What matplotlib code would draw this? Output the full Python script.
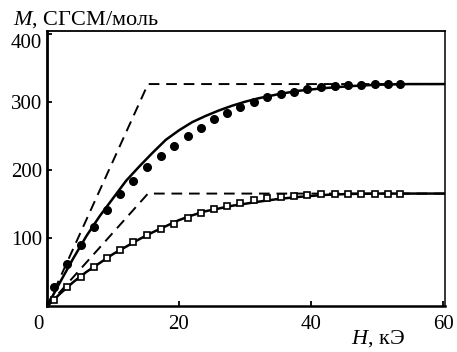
import numpy as np
import matplotlib
matplotlib.use("Agg")
import matplotlib.pyplot as plt
import matplotlib.transforms as mtransforms

plt.rcParams['font.family'] = ['Liberation Serif', 'DejaVu Serif']
plt.rcParams['mathtext.fontset'] = 'custom'
plt.rcParams['mathtext.rm'] = 'Liberation Serif'
plt.rcParams['mathtext.it'] = 'Liberation Serif:italic'

#
# Data
#

# measured points, H in kOe
h_points = [1.1, 3.1, 5.1, 7.1, 9.1, 11.1, 13.1, 15.2, 17.2, 19.2, 21.3, 23.3, 25.3,
            27.3, 29.3, 31.3, 33.4, 35.4, 37.4, 39.4, 41.5, 43.6, 45.6, 47.6, 49.7,
            51.7, 53.5]
m_circles = [28, 62, 90, 117, 142, 165, 185, 205, 221, 236, 251, 263, 275, 285, 294,
             301, 308, 312, 316, 320, 322, 324, 325, 326, 327, 327, 327]
m_squares = [10, 28, 43, 58, 71, 83, 95, 105, 114, 122, 130, 137, 143, 148, 152, 156,
             159, 161, 163, 164, 165, 165, 165, 165, 165, 165, 165]

# solid (calculated) curves
h_curve = [0, 2, 4, 6, 8, 10, 12, 14, 16, 18, 20, 22, 24, 26, 28, 30, 32, 35, 38,
           42, 46, 50, 55, 60.3]
m_curve_upper = [0, 36, 71, 104, 133, 159, 185, 206, 226, 245, 259, 271, 280, 288,
                 295, 301, 306, 312, 317, 321, 324, 326, 327, 327]
m_curve_lower = [0, 19, 36, 51, 64, 77, 88, 99, 109, 118, 127, 134, 140, 144, 148,
                 151, 154, 158, 161, 164, 165.5, 166, 166, 166]

# dashed (limiting) lines
h_dash = [0, 15.3, 60.3]
m_dash_upper = [0, 327, 327]
m_dash_lower = [0, 166, 166]

#
# Plot
#

fig = plt.figure(figsize=(4.57, 3.52), dpi=100)
ax = fig.add_axes([0.1028, 0.1293, 0.8709, 0.7826])

dash = (0, (5.5, 3.5))
ax.plot(h_dash, m_dash_upper, color='black', lw=1.4, linestyle=dash)
ax.plot(h_dash, m_dash_lower, color='black', lw=1.4, linestyle=dash)
ax.plot(h_curve, m_curve_upper, color='black', lw=1.8)
ax.plot(h_curve, m_curve_lower, color='black', lw=1.8)
ax.plot(h_points, m_circles, 'o', color='black', markersize=5.5, zorder=3)
ax.plot(h_points, m_squares, 's', markerfacecolor='white', markeredgecolor='black',
        markeredgewidth=1.2, markersize=4.2, zorder=3)

ax.set_xlim(0, 60.3)
ax.set_ylim(0, 405)
ax.set_xticks([0, 20, 40, 60])
ax.set_yticks([100, 200, 300, 400])
ax.tick_params(direction='in', length=3.5, width=1.3, labelsize=15, colors='black')
ax.tick_params(axis='x', pad=6)
ax.tick_params(axis='y', pad=3.5)

# the shared origin label sits a bit to the left, the top one a bit lower
lab0 = ax.get_xticklabels()[0]
lab0.set_transform(lab0.get_transform() +
                   mtransforms.ScaledTranslation(-6.5 / 72, 0, fig.dpi_scale_trans))
lab400 = ax.get_yticklabels()[-1]
lab400.set_transform(lab400.get_transform() +
                     mtransforms.ScaledTranslation(0, -4.5 / 72, fig.dpi_scale_trans))

ax.spines['left'].set_linewidth(2.0)
ax.spines['bottom'].set_linewidth(1.8)
ax.spines['top'].set_linewidth(1.3)
ax.spines['right'].set_linewidth(1.1)

fig.text(13 / 457, 1 - 25 / 352, r'$M$, СГСМ/моль', fontsize=16, va='baseline', ha='left')
fig.text(351 / 457, 1 - 344 / 352, r'$H$, кЭ', fontsize=16, va='baseline', ha='left')

fig.savefig('out.png', dpi=100)
